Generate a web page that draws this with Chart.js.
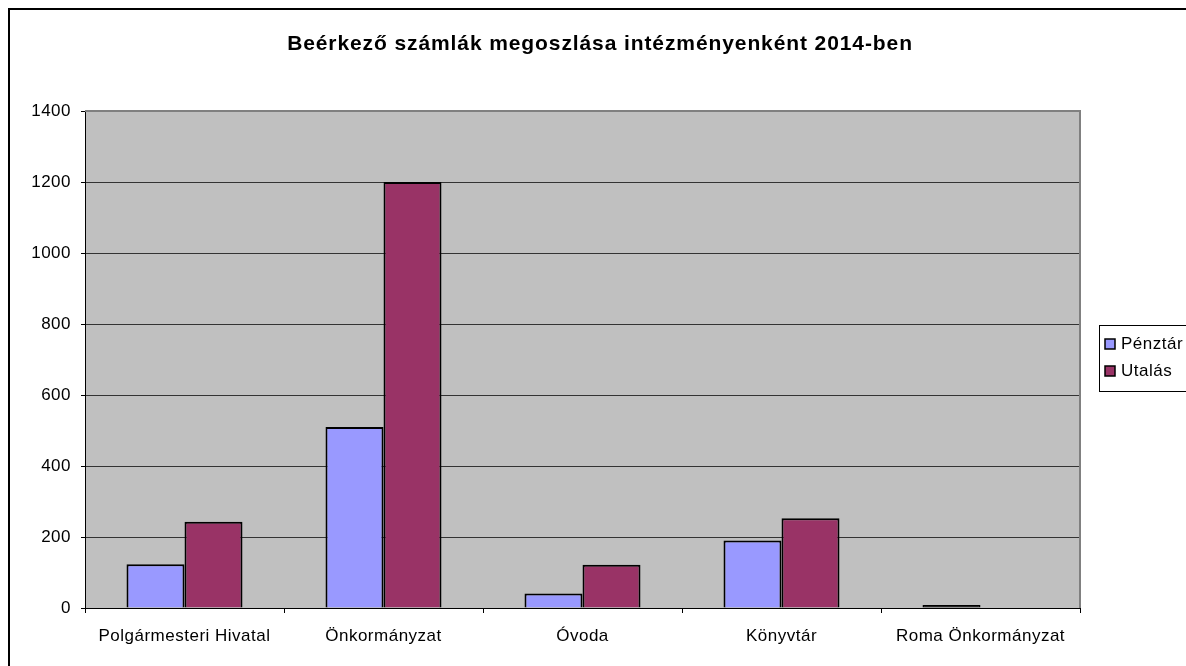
<!DOCTYPE html>
<html>
<head>
<meta charset="utf-8">
<script src="https://cdn.jsdelivr.net/npm/chart.js@4"></script>
<style>
  html, body { margin: 0; padding: 0; background: #fff; }
  #wrap { width: 1186px; height: 666px; }
</style>
</head>
<body>
<div id="wrap"><canvas id="szamlaChart" width="1186" height="666"></canvas></div>
<script>
// Data
const title = "Beérkező számlák megoszlása intézményenként 2014-ben";
const labels = ["Polgármesteri Hivatal", "Önkormányzat", "Óvoda", "Könyvtár", "Roma Önkormányzat"];
const penztar = [123, 510, 41, 190, 4];
const utalas = [243, 1200, 122, 253, 0];
const yTicks = [0, 200, 400, 600, 800, 1000, 1200, 1400];

const penztarColor = "#9999FF";
const utalasColor = "#993366";

Chart.defaults.font.family = "'Liberation Sans', Arial, sans-serif";
Chart.defaults.color = "#000";

// plot background, outer frame, title, legend
const excelLook = {
  id: "excelLook",
  beforeLayout(chart) {
    chart.ctx.letterSpacing = "0.5px";
  },
  beforeDraw(chart) {
    const c = chart.ctx, a = chart.chartArea;
    c.letterSpacing = "0.5px";
    c.save();
    c.fillStyle = "#fff";
    c.fillRect(0, 0, chart.width, chart.height);
    c.fillStyle = "#C0C0C0";
    c.fillRect(a.left, a.top, a.right - a.left, a.bottom - a.top);
    c.restore();
  },
  afterDraw(chart) {
    const c = chart.ctx, a = chart.chartArea;
    c.save();
    // plot border top/right
    c.strokeStyle = "#808080";
    c.lineWidth = 2;
    c.beginPath();
    c.moveTo(a.left, a.top);
    c.lineTo(a.right, a.top);
    c.lineTo(a.right, a.bottom);
    c.stroke();

    // outer frame
    c.strokeStyle = "#000";
    c.lineWidth = 2;
    c.strokeRect(9, 9, 2000, 2000);

    // title
    c.fillStyle = "#000";
    c.letterSpacing = "0.9px";
    c.font = "bold 21px 'Liberation Sans', Arial, sans-serif";
    c.textAlign = "center";
    c.textBaseline = "middle";
    c.fillText(title, 600, 44);

    // legend
    c.letterSpacing = "0.5px";
    c.fillStyle = "#fff";
    c.fillRect(1099, 325, 200, 66);
    c.strokeStyle = "#000";
    c.lineWidth = 1;
    c.strokeRect(1099.5, 325.5, 200, 66);
    c.font = "17px 'Liberation Sans', Arial, sans-serif";
    c.textAlign = "left";
    const legendColors = [penztarColor, utalasColor];
    chart.data.datasets.forEach((ds, i) => {
      const y = 344 + i * 27;
      c.fillStyle = legendColors[i];
      c.fillRect(1105, y - 5, 10, 10);
      c.strokeStyle = "#000";
      c.lineWidth = 1.5;
      c.strokeRect(1105, y - 5, 10, 10);
      c.fillStyle = "#000";
      c.fillText(ds.label, 1121, y);
    });
    c.restore();
  }
};

const ctx = document.getElementById("szamlaChart").getContext("2d");
const szamlaChart = new Chart(ctx, {
  type: "bar",
  data: {
    labels: labels,
    datasets: [{
      label: "Pénztár",
      data: penztar,
      // tiny bars show only their black outline
      backgroundColor: c => (c.raw < 10 ? "#000" : penztarColor),
      borderColor: "#000",
      borderWidth: 2,
      minBarLength: 3
    }, {
      label: "Utalás",
      data: utalas,
      backgroundColor: utalasColor,
      borderColor: "#000",
      borderWidth: 2
    }]
  },
  options: {
    responsive: false,
    animation: false,
    layout: { padding: { top: 111, right: 106, left: 0, bottom: 0 } },
    categoryPercentage: 0.583,
    barPercentage: 1,
    plugins: {
      legend: { display: false },
      title: { display: false },
      tooltip: { enabled: false }
    },
    scales: {
      x: {
        grid: { offset: true, drawOnChartArea: false, tickLength: 5, tickColor: "#000" },
        border: { color: "#000", width: 1 },
        ticks: { font: { size: 17 }, padding: 13, maxRotation: 0 },
        afterFit(scale) { scale.height = 58; }
      },
      y: {
        min: 0,
        max: 1400,
        afterBuildTicks(scale) { scale.ticks = yTicks.map(v => ({ value: v })); },
        grid: { color: "#333", tickColor: "#000", tickLength: 4 },
        border: { color: "#000", width: 1 },
        ticks: { font: { size: 17 }, padding: 10, callback: v => String(v) },
        afterFit(scale) { scale.width = 85; }
      }
    }
  },
  plugins: [excelLook]
});
</script>
</body>
</html>
